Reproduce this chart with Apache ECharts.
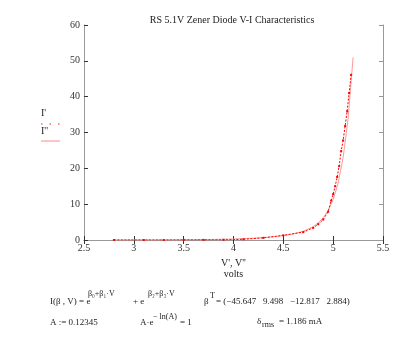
<!DOCTYPE html>
<html><head><meta charset="utf-8">
<script src="https://cdn.jsdelivr.net/npm/echarts@6/dist/echarts.min.js"></script>
<style>html,body{margin:0;padding:0;background:#fff}#c{width:400px;height:338px}</style>
</head><body><div id="c"></div>
<script>
// Measured data (I')
const measV = [2.8, 3.1, 3.3, 3.5, 3.7, 3.9, 4.1, 4.3, 4.5, 4.7, 4.8, 4.85, 4.9, 4.95, 4.98, 5.0, 5.02, 5.04, 5.06, 5.08, 5.1, 5.12, 5.14, 5.16, 5.18];
const measI = [0, 0, 0, 0.02, 0.03, 0.05, 0.2, 0.6, 1.3, 2.2, 3.4, 4.4, 5.7, 7.9, 11.0, 12.8, 15.0, 17.6, 20.6, 24.8, 27.8, 31.8, 35.9, 41.0, 46.1];
// Fitted curve (I'')
const fitV = [2.8, 3.0, 3.2, 3.4, 3.6, 3.8, 4.0, 4.2, 4.4, 4.5, 4.6, 4.7, 4.8, 4.85, 4.9, 4.95, 5.0, 5.05, 5.1, 5.15, 5.2];
const fitI = [0.01, 0.02, 0.03, 0.05, 0.1, 0.16, 0.28, 0.5, 0.88, 1.23, 1.7, 2.45, 3.7, 4.8, 6.2, 8.3, 11.3, 15.9, 23.0, 33.9, 51.0];
const xTicks = ['2.5', '3', '3.5', '4', '4.5', '5', '5.5'];
const yTicks = ['0', '10', '20', '30', '40', '50', '60'];

const serif = 'Liberation Serif';
const chart = echarts.init(document.getElementById('c'), null, {renderer: 'canvas'});
const zip = (a, b) => a.map((v, i) => [v, b[i]]);
const axisLine = {show: true, lineStyle: {color: '#999', width: 1}};
const tick = {show: true, inside: true, length: 4, lineStyle: {color: '#333'}};

function t(x, y, text, size, extra) {
  return Object.assign({type: 'text', x: x, y: y, style: {text: text, font: (size || 10) + 'px "' + serif + '"', fill: '#222', textVerticalAlign: 'middle'}}, extra || {});
}

chart.setOption({
  animation: false,
  backgroundColor: '#fff',
  title: {text: 'RS 5.1V Zener Diode V-I Characteristics', left: 227, top: 10, textAlign: 'center',
    textStyle: {fontFamily: serif, fontSize: 10, fontWeight: 'normal', color: '#222'}},
  grid: {left: 84, right: 17, top: 25, bottom: 98},
  xAxis: [{
    type: 'value', min: 2.5, max: 5.5, interval: 0.5, position: 'bottom',
    axisLine: axisLine, axisTick: tick, splitLine: {show: false},
    axisLabel: {fontFamily: serif, fontSize: 10, color: '#333', margin: 3,
      formatter: (v) => xTicks[Math.round((v - 2.5) / 0.5)]},
    name: "V', V''\nvolts", nameLocation: 'middle', nameGap: 18,
    nameTextStyle: {fontFamily: serif, fontSize: 10, color: '#222', lineHeight: 11, verticalAlign: 'top'}
  }, {
    type: 'value', min: 2.5, max: 5.5, interval: 0.5, position: 'top',
    axisLine: axisLine, axisTick: tick, axisLabel: {show: false}, splitLine: {show: false}
  }],
  yAxis: [{
    type: 'value', min: 0, max: 60, interval: 10, position: 'left',
    axisLine: axisLine, axisTick: tick, splitLine: {show: false},
    axisLabel: {fontFamily: serif, fontSize: 10, color: '#333', margin: 4,
      formatter: (v) => yTicks[Math.round(v / 10)]}
  }, {
    type: 'value', min: 0, max: 60, interval: 10, position: 'right',
    axisLine: axisLine, axisTick: {show: true, inside: true, length: 4, lineStyle: {color: '#999'}},
    axisLabel: {show: false}, splitLine: {show: false}
  }],
  series: [{
    name: "I''", type: 'line', data: zip(fitV, fitI), showSymbol: false,
    lineStyle: {color: '#ff9a9a', width: 1}, z: 2
  }, {
    name: "I'", type: 'line', data: zip(measV, measI),
    symbol: 'rect', symbolSize: 2, itemStyle: {color: '#ff0000'},
    lineStyle: {color: '#ff0000', width: 1, type: [2, 1.5]}, z: 3
  }],
  graphic: [
    t(8, 108, 'mA', 9, {rotation: Math.PI / 2, originX: 8, originY: 108, style: {text: 'mA', font: '9px "' + serif + '"', fill: '#222', textAlign: 'center', textVerticalAlign: 'middle'}}),
    t(41, 113, "I'", 10),
    {type: 'line', shape: {x1: 41, y1: 124, x2: 60, y2: 124}, style: {stroke: '#ff2020', lineWidth: 1.2, lineDash: [1.5, 7]}},
    t(41, 131, "I''", 10),
    {type: 'line', shape: {x1: 41, y1: 141, x2: 60, y2: 141}, style: {stroke: '#ff8888', lineWidth: 1}},
    // formulas
    t(50, 302, 'I(β , V) = e', 9),
    t(88, 294, 'β\u2080+β\u2081·V', 8),
    t(133, 302, '+ e', 9),
    t(148, 294, 'β\u2082+β\u2083·V', 8),
    t(204, 302, 'β', 9),
    t(210, 296, 'T', 8),
    t(216, 302, '= (−45.647   9.498   −12.817   2.884)', 9),
    t(50, 323, 'A := 0.12345', 9),
    t(140, 323, 'A·e', 9),
    t(153, 317, '− ln(A)', 8),
    t(180, 323, '= 1', 9),
    t(257, 322, 'δ', 9),
    t(262, 325, 'rms', 8),
    t(279, 322, '= 1.186 mA', 9)
  ]
});
</script></body></html>
